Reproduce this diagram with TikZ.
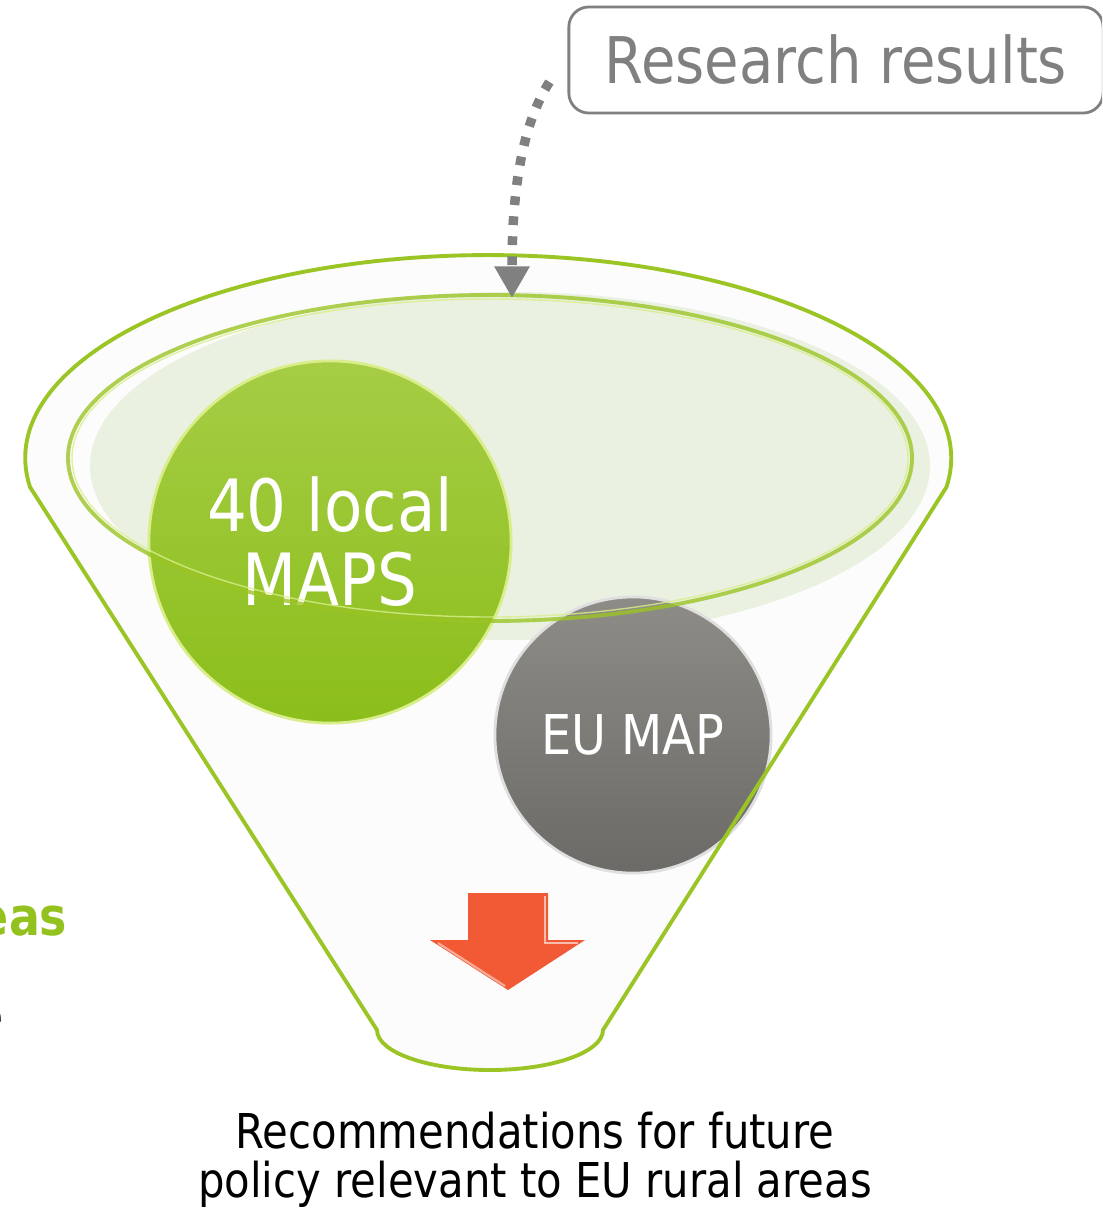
\documentclass[tikz,border=0pt]{standalone}
\usepackage{fontspec}
\setmainfont{DejaVu Sans}[FakeStretch=0.87]
\usetikzlibrary{arrows.meta}
\definecolor{rimgreen}{HTML}{9BC425}
\definecolor{rimlight}{HTML}{D9EE8A}
\definecolor{mapgreen}{HTML}{93C21F}
\definecolor{mapgreentop}{HTML}{A6CD45}
\definecolor{mapgreenbot}{HTML}{8BBE1B}
\definecolor{palegreen}{HTML}{EAF1E0}
\definecolor{eugraytop}{HTML}{8E8C87}
\definecolor{eugraybot}{HTML}{6C6A66}
\definecolor{boxgray}{HTML}{808080}
\definecolor{arroworange}{HTML}{F15A35}
\tikzset{
  mapball/.style={circle, inner sep=0pt, text=white, align=center},
  rimline/.style={draw=rimgreen, line width=1.1pt},
  dotarrow/.style={draw=boxgray, line width=2.7pt, dash pattern=on 2.5pt off 3.2pt,
    -{Triangle[width=9.5pt,length=9pt]}},
}

\begin{document}
\begin{tikzpicture}[x=0.01cm, y=-0.01cm]
  \useasboundingbox (0,0) rectangle (1102,1209);
  \clip (0,0) rectangle (1102,1209);
  % funnel body
  \fill[gray!2] (30,487) arc[start angle=171.8, end angle=368.2, x radius=463, y radius=203]
    -- (603,1030) arc[start angle=0, end angle=180, x radius=113, y radius=40] -- cycle;
  \fill[palegreen] (510,466) ellipse [x radius=420, y radius=174];
  % the two maps
  \node[mapball, minimum size=3.62cm, top color=mapgreentop, bottom color=mapgreenbot,
    draw=rimlight, line width=0.8pt, font=\fontsize{20.5}{21}\selectfont] (local) at (330,542) {40 local\\MAPS};
  \node[mapball, minimum size=2.76cm, top color=eugraytop, bottom color=eugraybot,
    draw=gray!25, line width=0.8pt, font=\fontsize{15.6}{18}\selectfont] (eumap) at (633,735) {EU MAP};
  % rims
  \draw[rimline, opacity=0.8] (490,458) ellipse [x radius=422, y radius=163];
  \draw[rimlight, line width=0.4pt, opacity=0.8] (490,458) ellipse [x radius=418, y radius=159];
  \draw[rimline] (30,487) arc[start angle=171.8, end angle=368.2, x radius=463, y radius=203]
    -- (603,1030) arc[start angle=0, end angle=180, x radius=113, y radius=40] -- cycle;
  % output arrow
  \fill[arroworange] (468,893) -- (548,893) -- (548,940) -- (585,940) -- (508,990)
    -- (430,940) -- (468,940) -- cycle;
  \draw[white, opacity=0.6, line width=0.6pt] (545,896) -- (545,943) -- (578,943);
  \draw[white, opacity=0.5, line width=0.6pt] (438,943) -- (505,986);
  % input
  \node[draw=boxgray, line width=0.8pt, rounded corners=0.2cm, minimum width=5.34cm,
    minimum height=1.06cm, text=boxgray, font=\fontsize{18.3}{20}\selectfont] (research) at (836,60) {Research results};
  \coordinate (rim) at (512,298);
  \draw[dotarrow] ([shift={(-18,22)}]research.west) .. controls (522,125) and (512,190) .. (rim);
  % texts
  \node[font=\fontsize{13.65}{14}\selectfont, align=center] (policy) at (535,1160)
    {Recommendations for future\\policy relevant to EU rural areas};
  \node[font=\bfseries\fontsize{15}{18}\selectfont, text=mapgreen, anchor=base east, inner sep=0pt] (areas) at (68,935) {eas};
  \node[font=\fontsize{15}{18}\selectfont, anchor=base east, inner sep=0pt] (cut) at (4,1035) {e};
\end{tikzpicture}
\end{document}
